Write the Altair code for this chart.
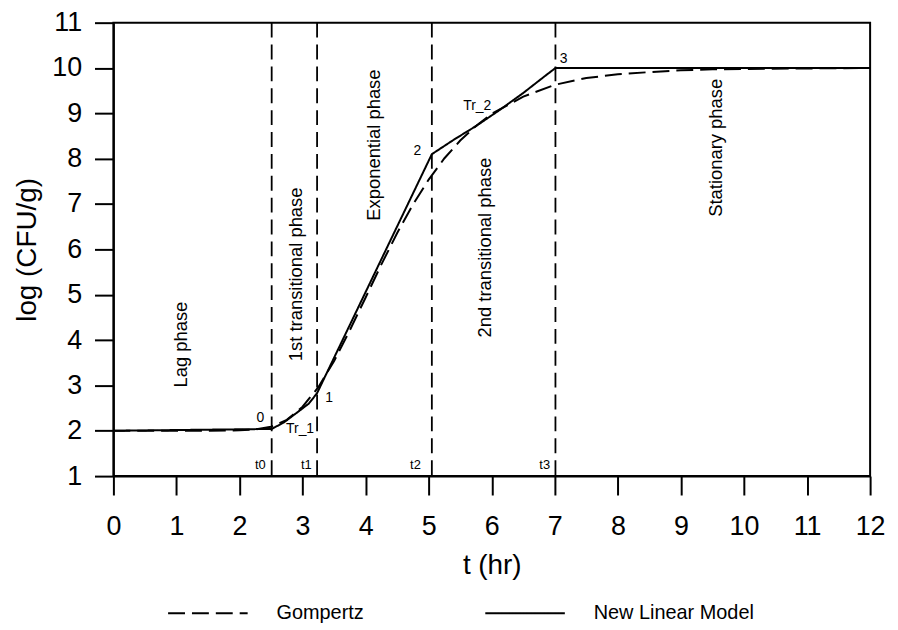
import altair as alt
import pandas as pd

FONT = "Liberation Sans"

# Gompertz curve
gomp_t = [0, 1, 1.5, 2, 2.25, 2.5, 2.75, 3, 3.25, 3.5, 3.75, 4, 4.25, 4.5, 4.75,
          5, 5.25, 5.5, 5.75, 6, 6.5, 7, 7.5, 8, 8.5, 9, 9.5, 10, 11, 12]
gomp_y = [2.0, 2.0, 2.0, 2.01, 2.03, 2.09, 2.24, 2.53, 2.96, 3.54, 4.22, 4.94, 5.67, 6.36, 6.99,
          7.54, 8.01, 8.40, 8.72, 8.99, 9.37, 9.63, 9.78, 9.86, 9.91, 9.95, 9.97, 9.98, 9.99, 10.0]

# New linear model
lin_t = [0, 2.51, 2.7, 2.93, 3.1, 3.23, 5.05, 5.4, 5.75, 6.1, 6.5, 6.85, 7.01, 12]
lin_y = [2.0, 2.04, 2.18, 2.42, 2.6, 2.83, 8.1, 8.42, 8.72, 9.05, 9.45, 9.83, 10.0, 10.0]

# phase boundaries
bound_t = [2.51, 3.23, 5.05, 7.01]
bound_lab = ["t0", "t1", "t2", "t3"]
bound_lab_t = [2.33, 3.06, 4.79, 6.84]
bound_lab_y = [1.24, 1.24, 1.24, 1.24]

# point labels
pt_lab = ["0", "1", "2", "3", "Tr_1", "Tr_2"]
pt_t = [2.33, 3.42, 4.82, 7.14, 2.96, 5.77]
pt_y = [2.29, 2.73, 8.17, 10.19, 2.03, 9.16]

# phase names
phase_names = ["Lag phase", "1st transitional phase", "Exponential phase",
               "2nd transitional phase", "Stationary phase"]
phase_t = [1.08, 2.90, 4.14, 5.90, 9.56]
phase_y = [3.9, 5.45, 8.30, 6.04, 8.24]

x_ticks = list(range(0, 13))
y_ticks = list(range(1, 12))

curves = pd.DataFrame(
    {"t": gomp_t + lin_t,
     "y": gomp_y + lin_y,
     "model": ["Gompertz"] * len(gomp_t) + ["New Linear Model"] * len(lin_t)}
)
bounds = pd.DataFrame({"t": bound_t})
blabs = pd.DataFrame({"t": bound_lab_t, "y": bound_lab_y, "lab": bound_lab})
plabs = pd.DataFrame({"t": pt_t, "y": pt_y, "lab": pt_lab})
phases = pd.DataFrame({"t": phase_t, "y": phase_y, "lab": phase_names})

xscale = alt.Scale(domain=[0, 12], nice=False, zero=False)
yscale = alt.Scale(domain=[1, 11], nice=False, zero=False)

xaxis = alt.Axis(values=x_ticks, format="d", title="t (hr)", grid=False, tickSize=19, tickWidth=2,
                 domainWidth=2, domainColor="black", tickColor="black",
                 labelFontSize=27, labelFont=FONT, labelColor="black", labelPadding=19,
                 labelFlush=False, titleFont=FONT, titleFontSize=28, titleFontWeight="normal",
                 titleColor="black", titlePadding=12)
yaxis = alt.Axis(values=y_ticks, format="d", title="log (CFU/g)", grid=False, tickSize=19, tickWidth=2,
                 domainWidth=2, domainColor="black", tickColor="black",
                 labelFontSize=27, labelFont=FONT, labelColor="black", labelPadding=13,
                 labelFlush=False, titleFont=FONT, titleFontSize=28, titleFontWeight="normal",
                 titleColor="black", titlePadding=10)

lines = alt.Chart(curves).mark_line(color="black", strokeWidth=2).encode(
    x=alt.X("t:Q", scale=xscale, axis=xaxis),
    y=alt.Y("y:Q", scale=yscale, axis=yaxis),
    strokeDash=alt.StrokeDash(
        "model:N",
        scale=alt.Scale(domain=["Gompertz", "New Linear Model"], range=[[17, 7], [1, 0]]),
        legend=alt.Legend(title=None, orient="none", legendX=54, legendY=553,
                          direction="horizontal", columns=2, columnPadding=118,
                          symbolType="stroke", symbolSize=6400, symbolStrokeWidth=2,
                          symbolStrokeColor="black", labelOffset=28, labelFontSize=20,
                          labelFont=FONT, labelColor="black", labelLimit=400, padding=0),
    ),
)

rules = alt.Chart(bounds).mark_rule(color="black", strokeWidth=1.8, strokeDash=[15, 7]).encode(
    x=alt.X("t:Q", scale=xscale)
)

blab_text = alt.Chart(blabs).mark_text(font=FONT, fontSize=13, color="black").encode(
    x=alt.X("t:Q", scale=xscale), y=alt.Y("y:Q", scale=yscale), text="lab:N"
)
plab_text = alt.Chart(plabs).mark_text(font=FONT, fontSize=14, color="black").encode(
    x=alt.X("t:Q", scale=xscale), y=alt.Y("y:Q", scale=yscale), text="lab:N"
)
phase_text = alt.Chart(phases).mark_text(font=FONT, fontSize=18.5, color="black", angle=270).encode(
    x=alt.X("t:Q", scale=xscale), y=alt.Y("y:Q", scale=yscale), text="lab:N"
)

chart = alt.layer(rules, lines, blab_text, plab_text, phase_text).properties(
    width=761, height=456,
    autosize=alt.AutoSizeParams(type="none"),
    padding={"left": 106, "top": 13, "right": 20, "bottom": 150},
    background="white",
).configure_view(stroke="black", strokeWidth=2)

chart.save("out.html", embed_options={"renderer": "svg", "actions": False})
